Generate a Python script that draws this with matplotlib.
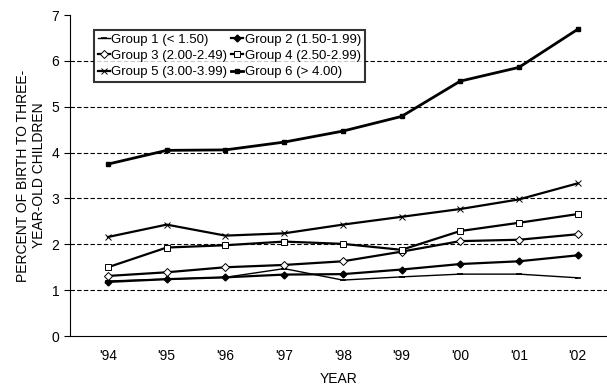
import matplotlib
matplotlib.use("Agg")
import matplotlib.pyplot as plt

plt.rcParams['font.family'] = ['Liberation Sans', 'DejaVu Sans']

# years and tick labels
years = [94, 95, 96, 97, 98, 99, 100, 101, 102]
year_labels = ["'94", "'95", "'96", "'97", "'98", "'99", "'00", "'01", "'02"]

# percent of birth to three-year-old children, by group
g1 = [1.20, 1.24, 1.28, 1.47, 1.22, 1.29, 1.35, 1.35, 1.27]
g2 = [1.18, 1.24, 1.28, 1.34, 1.35, 1.45, 1.57, 1.63, 1.76]
g3 = [1.31, 1.39, 1.50, 1.55, 1.63, 1.84, 2.07, 2.10, 2.22]
g4 = [1.50, 1.93, 1.98, 2.06, 2.01, 1.88, 2.29, 2.47, 2.66]
g5 = [2.16, 2.43, 2.19, 2.24, 2.43, 2.60, 2.77, 2.98, 3.33]
g6 = [3.75, 4.05, 4.06, 4.23, 4.47, 4.79, 5.56, 5.86, 6.69]

fig = plt.figure(figsize=(6.07, 3.88), dpi=100)
ax = fig.add_axes([0.115, 0.134, 0.885, 0.827])

for y in range(1, 7):
    ax.axhline(y, color='black', lw=0.8, ls=(0, (4, 2)), zorder=1)

l1, = ax.plot(years, g1, color='black', lw=1.0, marker='_', ms=4, mew=1.2, label='Group 1 (< 1.50)')
l2, = ax.plot(years, g2, color='black', lw=1.6, marker='D', ms=3.5, label='Group 2 (1.50-1.99)')
l3, = ax.plot(years, g3, color='black', lw=1.6, marker='D', ms=4.5, mfc='white', mew=0.7,
              label='Group 3 (2.00-2.49)')
l4, = ax.plot(years, g4, color='black', lw=1.6, marker='s', ms=4.5, mfc='white', mew=0.7,
              label='Group 4 (2.50-2.99)')
l5, = ax.plot(years, g5, color='black', lw=1.6, marker='x', ms=5, mew=0.7, label='Group 5 (3.00-3.99)')
l6, = ax.plot(years, g6, color='black', lw=2.0, marker='s', ms=3.5, label='Group 6 (> 4.00)')

ax.set_xlim(93.35, 102.5)
ax.set_ylim(0, 7)
ax.set_xticks(years)
ax.set_xticklabels(year_labels, fontsize=10)
ax.set_yticks(range(0, 8))
ax.tick_params(axis='y', labelsize=10, length=4, direction='out')
ax.tick_params(axis='x', length=0, pad=9)
ax.spines['top'].set_visible(False)
ax.spines['right'].set_visible(False)
ax.set_xlabel('YEAR', fontsize=10, labelpad=7)
ax.set_ylabel('PERCENT OF BIRTH TO THREE-\nYEAR-OLD CHILDREN', fontsize=10)

# legend filled row by row
handles = [l1, l3, l5, l2, l4, l6]
leg = ax.legend(handles=handles, labels=[h.get_label() for h in handles],
                loc='upper left', ncol=2, fontsize=9.5, bbox_to_anchor=(0.045, 0.955),
                frameon=True, fancybox=False, handlelength=0.9, handletextpad=0.12,
                columnspacing=0.3, borderpad=0.3, labelspacing=0.3, borderaxespad=0)
leg.get_frame().set_edgecolor('black')
leg.get_frame().set_linewidth(1.5)

fig.savefig('out.png', dpi=100)
